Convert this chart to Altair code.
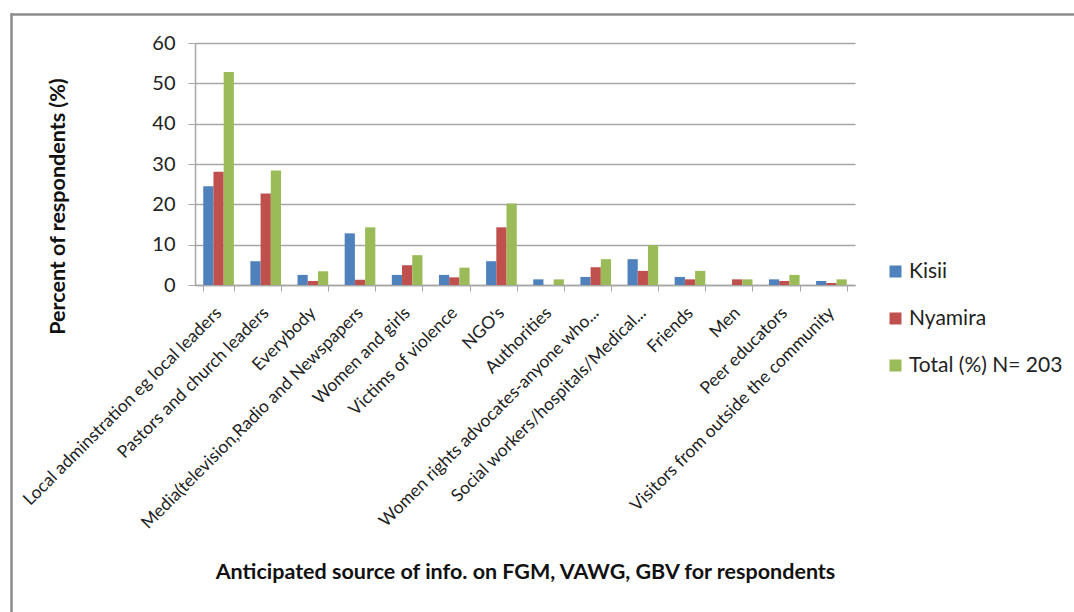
import altair as alt
import pandas as pd

# Anticipated sources of information on FGM / VAWG / GBV
categories = [
    "Local adminstration eg local leaders",
    "Pastors and church leaders",
    "Everybody",
    "Media(television,Radio and Newspapers",
    "Women and girls",
    "Victims of violence",
    "NGO's",
    "Authorities",
    "Women rights advocates-anyone who...",
    "Social workers/hospitals/Medical...",
    "Friends",
    "Men",
    "Peer educators",
    "Visitors from outside the community",
]

series_names = ["Kisii", "Nyamira", "Total (%) N= 203"]
series_colors = ["#4F81BD", "#C0504D", "#9BBB59"]

kisii = [24.5, 5.9, 2.5, 12.8, 2.5, 2.5, 5.9, 1.4, 2.0, 6.4, 2.0, 0.0, 1.4, 1.0]
nyamira = [28.1, 22.7, 1.0, 1.3, 4.9, 1.9, 14.3, 0.0, 4.4, 3.5, 1.4, 1.4, 1.0, 0.5]
total = [52.8, 28.4, 3.4, 14.3, 7.4, 4.3, 20.2, 1.4, 6.4, 9.9, 3.5, 1.4, 2.5, 1.4]

y_ticks = [0, 10, 20, 30, 40, 50, 60]

rows = []
for name, vals in zip(series_names, [kisii, nyamira, total]):
    for cat, v in zip(categories, vals):
        rows.append({"source": cat, "series": name, "value": v})
df = pd.DataFrame(rows)

FONT = "Lato"
GRID = "#a6a6a6"

bars = alt.Chart(df).mark_bar().encode(
    x=alt.X(
        "source:N",
        sort=categories,
        scale=alt.Scale(paddingInner=0.35, paddingOuter=0.175),
        axis=alt.Axis(
            title="Anticipated source of info. on FGM, VAWG, GBV for respondents",
            titleFont=FONT,
            titleFontSize=21.5,
            titleFontWeight="bold",
            titleColor="#111111",
            titleY=276,
            titleBaseline="top",
            labelAngle=-45,
            labelAlign="right",
            labelBaseline="middle",
            labelFont=FONT,
            labelFontSize=17.5,
            labelColor="#222222",
            labelPadding=19,
            labelOffset=0,
            labelLimit=400,
            tickBand="extent",
            tickSize=6,
            tickColor=GRID,
            domainColor=GRID,
            domainWidth=1.5,
            grid=False,
        ),
    ),
    xOffset=alt.XOffset("series:N", sort=series_names),
    y=alt.Y(
        "value:Q",
        scale=alt.Scale(domain=[0, 60]),
        axis=alt.Axis(
            title="Percent of respondents (%)",
            titleFont=FONT,
            titleFontSize=21.5,
            titleFontWeight="bold",
            titleColor="#111111",
            titleX=-137,
            titleY=163,
            titleAngle=-90,
            titleAlign="center",
            titleBaseline="middle",
            values=y_ticks,
            labelFont=FONT,
            labelFontSize=20,
            labelColor="#222222",
            labelPadding=13,
            tickSize=7,
            tickColor=GRID,
            domainColor=GRID,
            domainWidth=1.5,
            gridColor=GRID,
            gridWidth=1.5,
        ),
    ),
    color=alt.Color(
        "series:N",
        scale=alt.Scale(domain=series_names, range=series_colors),
        legend=alt.Legend(
            title=None,
            orient="none",
            legendX=690,
            legendY=218,
            symbolType="square",
            symbolSize=144,
            symbolStrokeWidth=0,
            labelFont=FONT,
            labelFontSize=21,
            labelColor="#222222",
            labelOffset=3,
            rowPadding=25,
            padding=0,
        ),
    ),
)

# outer chart frame (top and left edges)
frame_df = pd.DataFrame({"k": [0]})
frame_top = alt.Chart(frame_df).mark_rule(color="#8c8c8c", strokeWidth=2.5).encode(
    x=alt.value(-184), x2=alt.value(900), y=alt.value(-28.5)
)
frame_left = alt.Chart(frame_df).mark_rule(color="#8c8c8c", strokeWidth=2.5).encode(
    x=alt.value(-183.5), y=alt.value(-30), y2=alt.value(600)
)

chart = alt.layer(bars, frame_top, frame_left).properties(
    width=660,
    height=242,
    autosize=alt.AutoSizeParams(type="none"),
    padding={"left": 195, "top": 43, "right": 219, "bottom": 327},
    background="white",
).configure_view(stroke=None)

chart.save("out.html", embed_options={"renderer": "svg", "actions": False})
